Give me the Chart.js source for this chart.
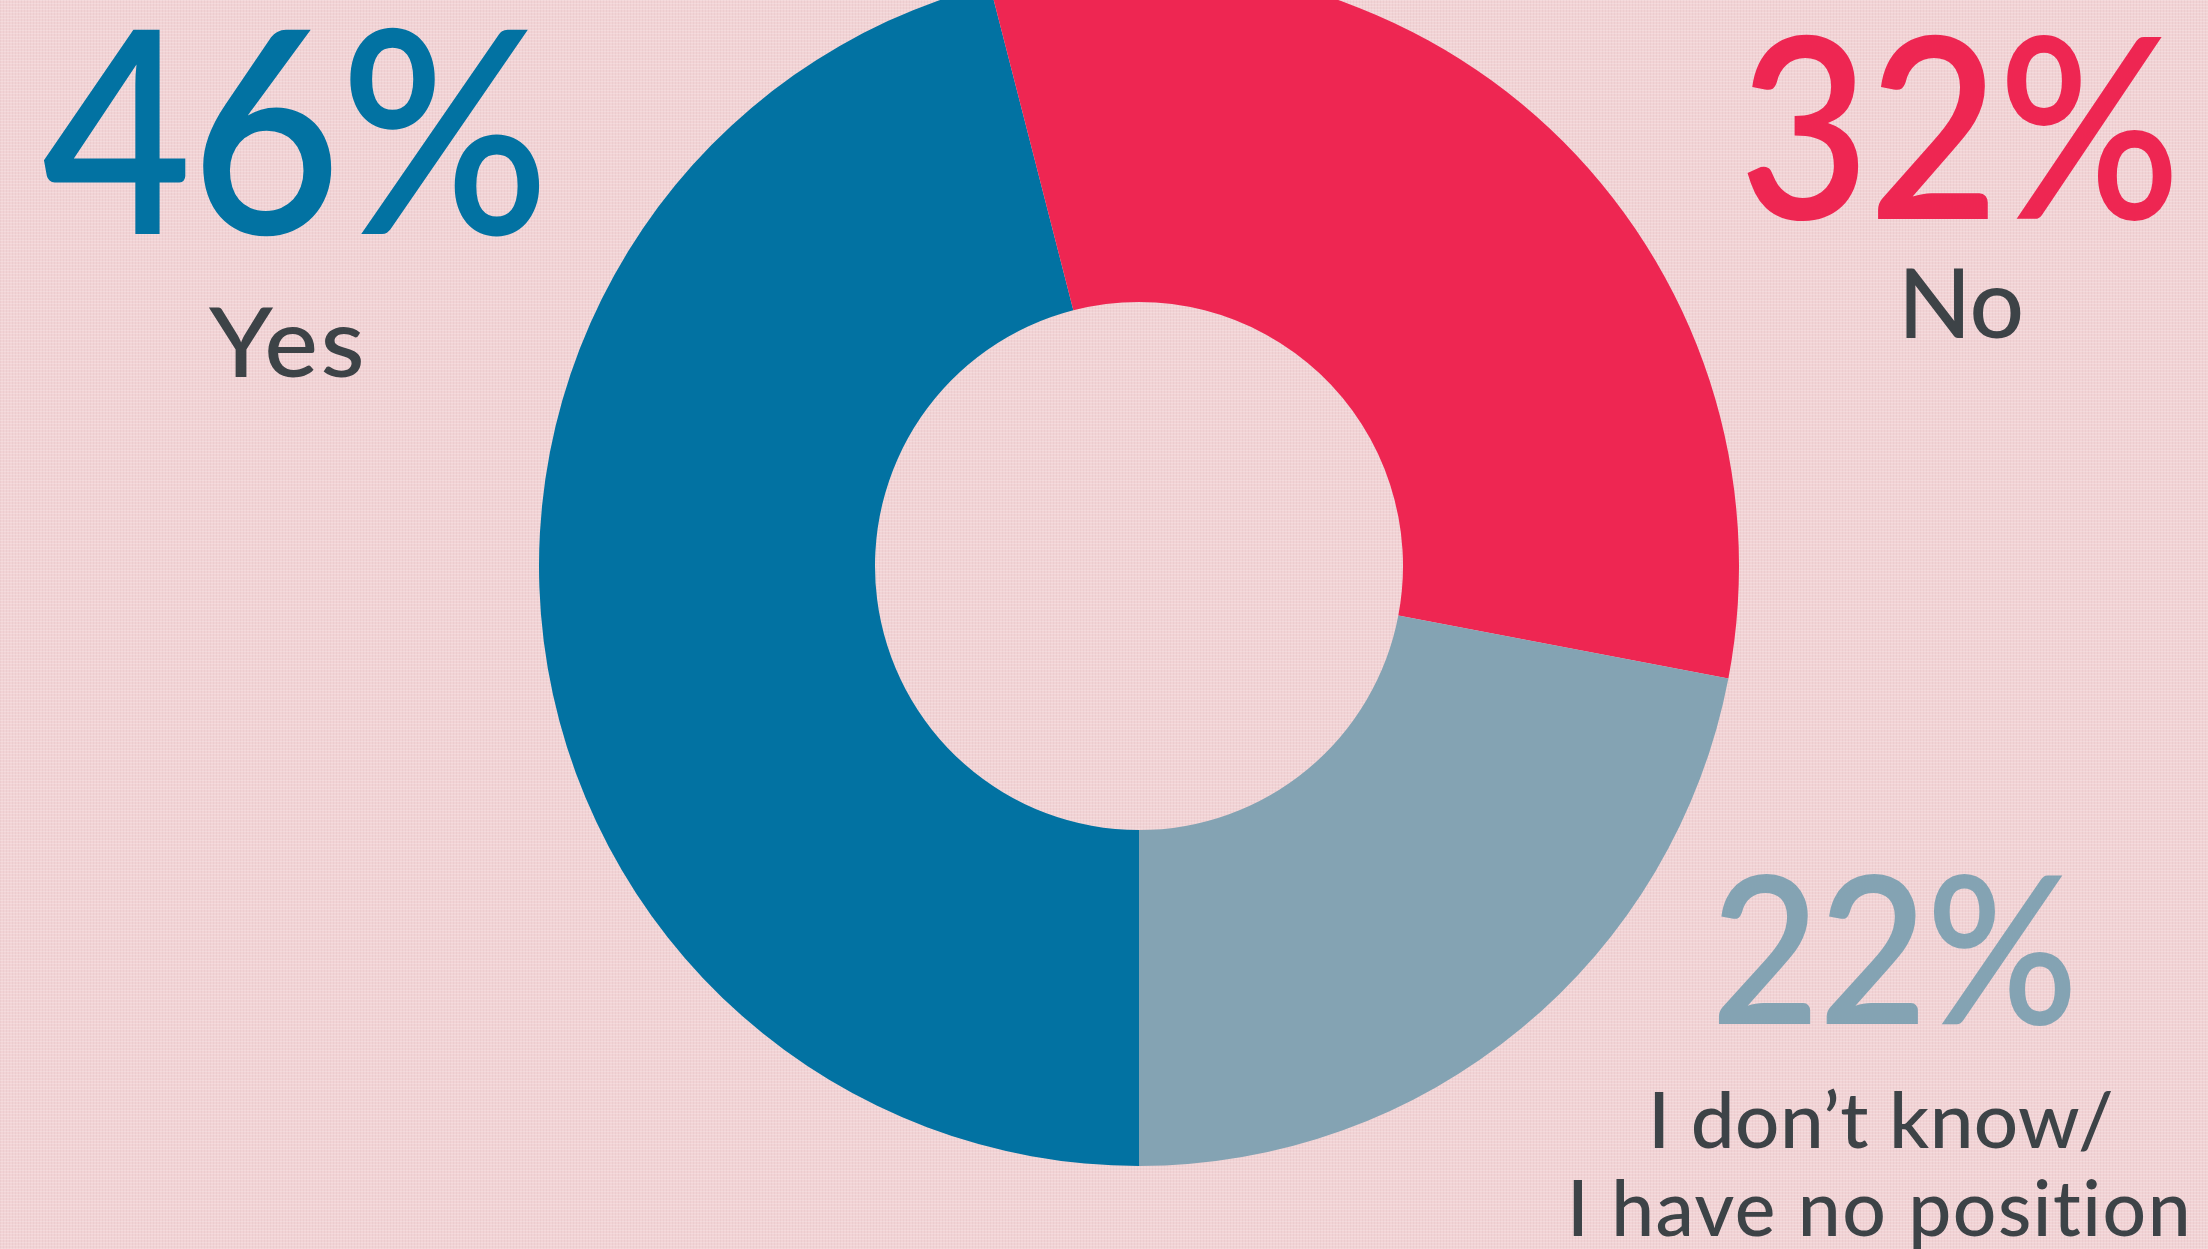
<!DOCTYPE html>
<html>
<head>
<meta charset="utf-8">
<script src="https://cdn.jsdelivr.net/npm/chart.js@4"></script>
<style>
  html, body { margin: 0; padding: 0; }
  body {
    width: 2208px; height: 1249px; overflow: hidden; position: relative;
    background-color: #F2D3D5;
    background-image:
      repeating-linear-gradient(0deg, rgba(255,255,255,0.18) 0 1px, transparent 1px 3px),
      repeating-linear-gradient(90deg, rgba(150,110,115,0.07) 0 1px, transparent 1px 3px);
  }
  #chartBox { position: absolute; left: 539px; top: -34px; width: 1200px; height: 1200px; }
  .lbl { position: absolute; white-space: pre; font-family: Lato, "Noto Sans", sans-serif; transform-origin: 0 0; }
</style>
</head>
<body>
<div id="chartBox"><canvas id="c" width="1200" height="1200"></canvas></div>
<div id="labels"></div>
<script>
// ---- data ----
const categories = ['Yes', 'No', 'I don’t know/\nI have no position'];
const values = [46, 32, 22];
const sliceColors = ['#0272A2', '#EE2652', '#84A3B3'];
const textColor = '#3D4347';

// label boxes: ink left, ink right, cap top, baseline (one entry per text line)
const pctBoxes = [
  [42, 542, 28, 235],
  [1747, 2172, 36, 220],
  [1718, 2071, 873, 1024]
];
const catBoxes = [
  [[208, 362, 307, 377]],
  [[1906, 2021, 267, 338]],
  [[1654, 2112, 1091, 1148], [1573, 2188, 1180, 1236]]
];

new Chart(document.getElementById('c'), {
  type: 'doughnut',
  data: {
    labels: categories,
    datasets: [{
      data: values,
      backgroundColor: sliceColors,
      borderWidth: 0,
      hoverOffset: 0,
      offset: 0
    }]
  },
  options: {
    responsive: false,
    animation: false,
    events: [],
    rotation: 180,
    cutout: '44%',
    layout: { padding: 0 },
    plugins: { legend: { display: false }, tooltip: { enabled: false } }
  }
});

const mctx = document.createElement('canvas').getContext('2d');
const FAM = 'Lato, "Noto Sans", sans-serif';
const clamp = (v, a, b) => Math.max(a, Math.min(b, v));
function place(text, box, color, weight) {
  const [x0, x1, capTop, base] = box;
  mctx.font = weight + ' 100px ' + FAM;
  const capRatio = mctx.measureText('H').actualBoundingBoxAscent / 100;
  const size = (base - capTop) / capRatio;
  mctx.font = weight + ' ' + size + 'px ' + FAM;
  const m = mctx.measureText(text);
  const inkLeft = -m.actualBoundingBoxLeft;
  const inkW = m.actualBoundingBoxRight + m.actualBoundingBoxLeft;
  const n = [...text].length;
  const target = x1 - x0;
  const ls = n > 1 ? clamp((target - inkW) / (n - 1), -0.005 * size, 0.025 * size) : 0;
  const W = inkW + ls * (n - 1);
  const s = clamp(target / W, 0.85, 1.15);
  const fA = m.fontBoundingBoxAscent, fD = m.fontBoundingBoxDescent;
  const baseOff = (size - (fA + fD)) / 2 + fA;
  const inkStart = (x0 + x1) / 2 - W * s / 2;
  const d = document.createElement('div');
  d.className = 'lbl';
  d.style.fontWeight = weight;
  d.style.fontSize = size + 'px';
  d.style.lineHeight = size + 'px';
  d.style.letterSpacing = ls + 'px';
  d.style.color = color;
  d.style.left = (inkStart - inkLeft * s) + 'px';
  d.style.top = (base - baseOff) + 'px';
  d.style.transform = 'scaleX(' + s + ')';
  d.textContent = text;
  document.getElementById('labels').appendChild(d);
}

categories.forEach((cat, i) => {
  place(values[i] + '%', pctBoxes[i], sliceColors[i], 600);
  cat.split('\n').forEach((line, j) => place(line, catBoxes[i][j], textColor, 500));
});
</script>
</body>
</html>
